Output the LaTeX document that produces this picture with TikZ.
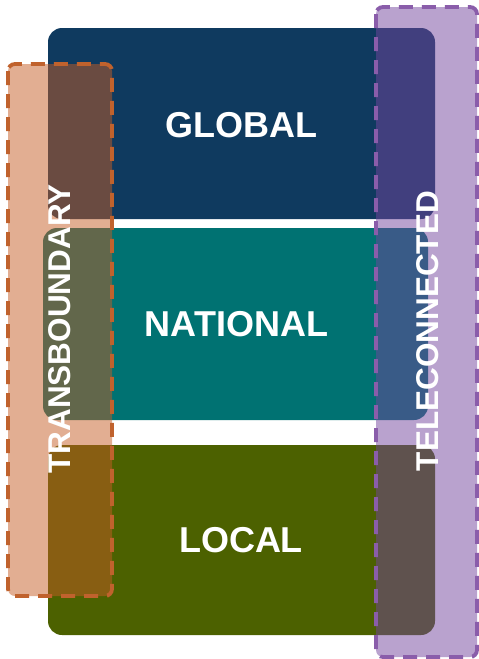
\documentclass[tikz,border=0pt]{standalone}
\usepackage{fontspec}
\setmainfont{Liberation Sans}
\begin{document}
\begin{tikzpicture}[x=1pt,y=-1pt,
  levelbox/.style={rounded corners=14pt},
  overlay/.style={rounded corners=7pt, line width=3.8pt, dash pattern=on 14pt off 9pt, fill opacity=0.5},
  biglabel/.style={text=white, font=\bfseries\fontsize{36}{40}\selectfont, inner sep=0pt},
  sidelabel/.style={text=white, font=\bfseries\fontsize{31.5}{34}\selectfont, inner sep=0pt, rotate=90}
]
\definecolor{globalc}{HTML}{0F3A5F}
\definecolor{nationalc}{HTML}{007272}
\definecolor{localc}{HTML}{4C6100}
\definecolor{transfill}{RGB}{197,93,37}
\definecolor{transline}{HTML}{C0622D}
\definecolor{telefill}{RGB}{115,69,157}
\definecolor{teleline}{HTML}{8A5DAA}
\useasboundingbox (0,0) rectangle (479,659);
% level boxes
\fill[globalc, levelbox] (48,28) rectangle (435,219);
\fill[nationalc, levelbox] (43,228) rectangle (428,420);
\fill[localc, levelbox] (48,445) rectangle (435,635);
% overlays
\draw[overlay, fill=transfill, draw=transline] (8,64) rectangle (112,596);
\draw[overlay, fill=telefill, draw=teleline] (376,7) rectangle (477,657);
% labels
\node[biglabel] (global) at (241,125) {GLOBAL};
\node[biglabel] (national) at (236.5,324) {NATIONAL};
\node[biglabel] (local) at (241,540) {LOCAL};
\node[sidelabel] (trans) at (59.5,329) {TRANSBOUNDARY};
\node[sidelabel] (tele) at (428,331) {TELECONNECTED};
\end{tikzpicture}
\end{document}
